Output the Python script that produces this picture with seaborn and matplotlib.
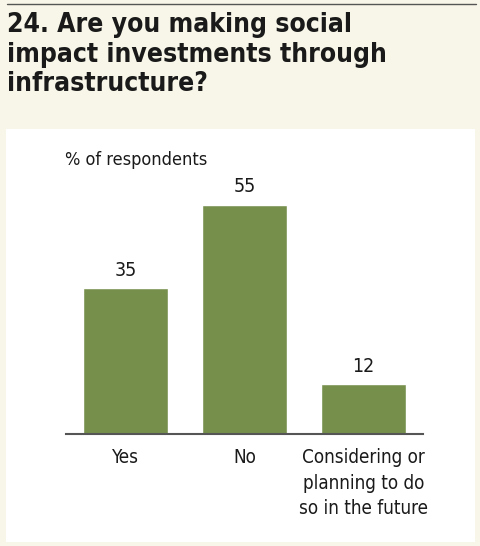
import matplotlib
matplotlib.use('Agg')
import matplotlib.pyplot as plt
import seaborn as sns
import pandas as pd
from matplotlib.patches import Rectangle
from matplotlib.lines import Line2D

categories = ['Yes', 'No', 'Considering or\nplanning to do\nso in the future']
values = [35, 55, 12]
title = '24. Are you making social\nimpact investments through\ninfrastructure?'
unit_label = '% of respondents'

df = pd.DataFrame({'answer': categories, 'pct': values})

sns.set_style('white')
plt.rcParams['font.family'] = ['DejaVu Sans']
plt.rcParams['font.stretch'] = 'condensed'

W, H = 480, 546
bg = '#f8f6e8'
green = '#76904c'

fig = plt.figure(figsize=(W / 100, H / 100), dpi=100, facecolor=bg)

# top rule and white panel
fig.add_artist(Line2D([7 / W, 476 / W], [1 - 4 / H, 1 - 4 / H], color='#555555', lw=1))
fig.patches.append(Rectangle((6 / W, 1 - 542 / H), (475 - 6) / W, (542 - 129) / H,
                             transform=fig.transFigure, facecolor='white', edgecolor='none', zorder=-1))

fig.text(7 / W, 1 - 12 / H, title, ha='left', va='top', fontsize=19, fontweight='bold',
         fontstretch='condensed', color='#1a1a1a', linespacing=1.18)

ax = fig.add_axes([66 / W, 1 - 434 / H, (423 - 66) / W, 250 / H], zorder=2)
ax.set_facecolor('none')
sns.barplot(data=df, x='answer', y='pct', color=green, width=0.72, saturation=1, ax=ax)
ax.set_xlim(-0.5, 2.5)
ax.set_ylim(0, 60)

for i, v in enumerate(values):
    ax.text(i, v + 2.0, str(v), ha='center', va='bottom', fontsize=14, color='#1a1a1a')

ax.set_xlabel('')
ax.set_ylabel('')
ax.set_yticks([])
ax.tick_params(axis='x', length=0, pad=10, labelsize=13.5, labelcolor='#1a1a1a')
for lab in ax.get_xticklabels():
    lab.set_linespacing(1.45)
    lab.set_verticalalignment('top')
for s in ['top', 'right', 'left']:
    ax.spines[s].set_visible(False)
ax.spines['bottom'].set_color('#555555')
ax.spines['bottom'].set_linewidth(1.5)

fig.text(65 / W, 1 - 160 / H, unit_label, ha='left', va='center', fontsize=13, color='#1a1a1a')

fig.savefig('out.png', dpi=100, facecolor=bg)
